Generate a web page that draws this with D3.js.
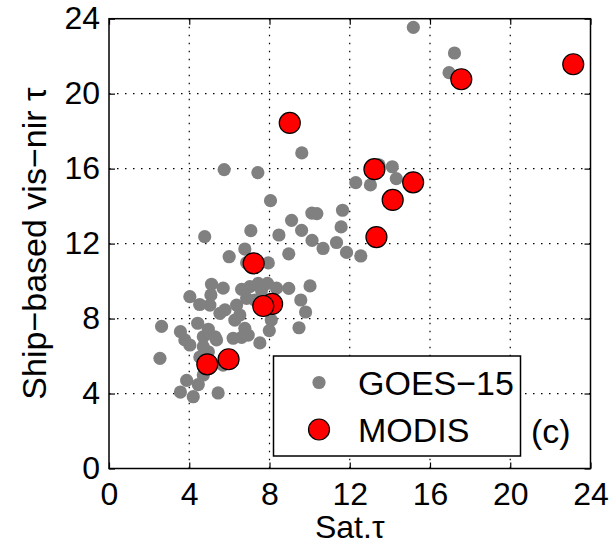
<!DOCTYPE html>
<html>
<head>
<meta charset="utf-8">
<script src="https://cdn.jsdelivr.net/npm/d3@7"></script>
<style>
  body { margin: 0; background: #fff; }
  svg { display: block; }
  text { font-family: "Liberation Sans", Arial, Helvetica, sans-serif; fill: #000; }
</style>
</head>
<body>
<div id="chart"></div>
<script>
var width = 613, height = 544;
var plot = { left: 109, top: 18.7, right: 590.5, bottom: 468.5 };

var xTicks = [0, 4, 8, 12, 16, 20, 24];
var yTicks = [0, 4, 8, 12, 16, 20, 24];

// GOES-15 points: satellite tau vs ship-based tau
var goesX = [15.17, 17.22, 16.95, 9.61, 5.74, 7.42, 13.46, 14.12, 14.32, 12.30,
    13.03, 8.05, 10.11, 10.36, 11.64, 9.10, 9.60, 11.57, 7.07, 4.77,
    8.47, 10.12, 11.34, 10.67, 6.77, 8.96, 11.84, 12.55, 5.99, 7.94,
    6.86, 8.96, 10.02, 9.56, 9.80, 9.47, 8.09, 7.99, 7.52, 4.03,
    4.52, 2.62, 3.56, 2.54, 3.87, 3.56, 4.20, 4.45, 5.44, 4.53,
    4.70, 5.69, 5.11, 5.69, 5.08, 5.03, 5.78, 5.53, 6.61, 7.02,
    7.44, 7.90, 7.60, 8.35, 6.36, 6.86, 6.52, 6.27, 6.77, 6.61,
    6.19, 4.42, 4.95, 4.70, 5.28, 3.78, 4.03, 4.95, 4.70, 6.94,
    7.27, 5.36];
var goesY = [23.54, 22.17, 21.12, 16.84, 15.95, 15.79, 16.20, 16.10, 15.47, 15.25,
    15.13, 14.29, 13.63, 13.60, 13.78, 13.24, 12.71, 12.89, 12.69, 12.37,
    12.46, 12.17, 12.06, 11.74, 11.71, 11.45, 11.53, 11.34, 11.30, 10.97,
    10.98, 9.61, 9.74, 8.99, 8.35, 7.51, 7.92, 7.36, 6.70, 9.17,
    8.75, 7.58, 7.30, 5.88, 4.70, 4.08, 3.83, 4.48, 4.03, 5.95,
    4.99, 5.52, 9.83, 9.62, 9.26, 8.72, 8.46, 8.28, 9.56, 9.70,
    9.88, 9.88, 9.52, 9.62, 8.72, 9.08, 8.19, 7.92, 7.48, 7.00,
    6.95, 7.75, 7.43, 7.03, 7.03, 6.86, 6.59, 6.23, 6.50, 7.12,
    8.99, 6.86];

// MODIS points
var modisX = [9.01, 17.56, 23.14, 13.23, 15.16, 14.14, 13.33, 7.21, 8.13, 7.69, 5.96, 4.90];
var modisY = [18.44, 20.77, 21.57, 15.97, 15.27, 14.33, 12.35, 10.95, 8.78, 8.67, 5.83, 5.56];

var seriesNames = ["GOES\u221215", "MODIS"];

var svg = d3.select("#chart").append("svg")
    .attr("width", width)
    .attr("height", height);

var x = d3.scaleLinear().domain([0, 24]).range([plot.left, plot.right]);
var y = d3.scaleLinear().domain([0, 24]).range([plot.bottom, plot.top]);

// dotted grid
var grid = svg.append("g").attr("stroke", "#000").attr("stroke-width", 1.2)
    .attr("stroke-dasharray", "1.5,6.5");
grid.selectAll(".gx").data(xTicks.slice(1, -1)).enter().append("line")
    .attr("x1", d => x(d)).attr("x2", d => x(d))
    .attr("y1", plot.top).attr("y2", plot.bottom);
grid.selectAll(".gy").data(yTicks.slice(1, -1)).enter().append("line")
    .attr("y1", d => y(d)).attr("y2", d => y(d))
    .attr("x1", plot.left).attr("x2", plot.right);

// points
var goes = goesX.map((v, i) => ({ x: v, y: goesY[i] }));
var modis = modisX.map((v, i) => ({ x: v, y: modisY[i] }));

svg.append("g").selectAll("circle").data(goes).enter().append("circle")
    .attr("cx", d => x(d.x)).attr("cy", d => y(d.y))
    .attr("r", 6.6).attr("fill", "#808080");

svg.append("g").selectAll("circle").data(modis).enter().append("circle")
    .attr("cx", d => x(d.x)).attr("cy", d => y(d.y))
    .attr("r", 10.5).attr("fill", "#ff0000")
    .attr("stroke", "#000").attr("stroke-width", 1.2);

// axes, ticks pointing inward like matlab
function styleAxis(g) {
    g.select(".domain").remove();
    g.selectAll(".tick line").attr("stroke", "#000").attr("stroke-width", 1.2);
    g.selectAll(".tick text").style("font-size", "32px");
}

svg.append("g")
    .attr("transform", `translate(0,${plot.bottom})`)
    .call(d3.axisBottom(x).tickValues(xTicks).tickSize(-6).tickPadding(14))
    .call(styleAxis);
svg.append("g")
    .attr("transform", `translate(${plot.left},0)`)
    .call(d3.axisLeft(y).tickValues(yTicks).tickSize(-6).tickPadding(9))
    .call(styleAxis);
svg.append("g")
    .attr("transform", `translate(0,${plot.top})`)
    .call(d3.axisTop(x).tickValues(xTicks).tickSize(-6).tickFormat(""))
    .call(styleAxis);
svg.append("g")
    .attr("transform", `translate(${plot.right},0)`)
    .call(d3.axisRight(y).tickValues(yTicks).tickSize(-6).tickFormat(""))
    .call(styleAxis);

svg.append("rect")
    .attr("x", plot.left).attr("y", plot.top)
    .attr("width", plot.right - plot.left).attr("height", plot.bottom - plot.top)
    .attr("fill", "none").attr("stroke", "#000").attr("stroke-width", 1.5);

// axis labels
svg.append("text")
    .attr("x", (plot.left + plot.right) / 2).attr("y", 538)
    .attr("text-anchor", "middle")
    .style("font-size", "32px")
    .text("Sat.\u03c4");

svg.append("text")
    .attr("transform", `translate(46,${(plot.top + plot.bottom) / 2}) rotate(-90)`)
    .attr("text-anchor", "middle")
    .style("font-size", "34px")
    .text("Ship\u2212based vis\u2212nir \u03c4");

// legend
var legend = svg.append("g");
legend.append("rect")
    .attr("x", 273.5).attr("y", 356).attr("width", 247).attr("height", 100)
    .attr("fill", "#fff").attr("stroke", "#000").attr("stroke-width", 1.5);
legend.append("circle").attr("cx", 319).attr("cy", 382.5).attr("r", 6.6).attr("fill", "#808080");
legend.append("circle").attr("cx", 319).attr("cy", 429.5).attr("r", 10.5)
    .attr("fill", "#ff0000").attr("stroke", "#000").attr("stroke-width", 1.2);
legend.selectAll(".lt").data(seriesNames).enter().append("text")
    .attr("x", 358).attr("y", (d, i) => 395 + i * 47)
    .style("font-size", "34px")
    .text(d => d);

svg.append("text")
    .attr("x", 531).attr("y", 443)
    .style("font-size", "34px")
    .text("(c)");
</script>
</body>
</html>
